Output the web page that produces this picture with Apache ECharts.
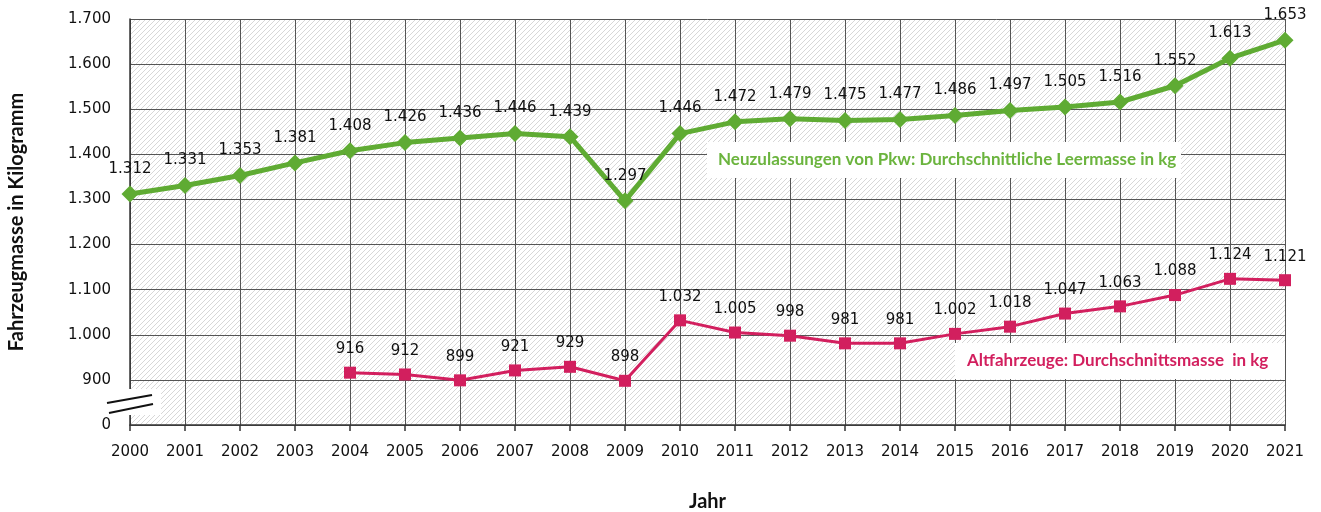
<!DOCTYPE html>
<html>
<head>
<meta charset="utf-8">
<script src="https://cdn.jsdelivr.net/npm/echarts@6/dist/echarts.min.js"></script>
<style>
html,body{margin:0;padding:0;background:#fff;}
#chart{width:1321px;height:512px;}
</style>
</head>
<body>
<div id="chart"></div>
<script>
const years = ['2000','2001','2002','2003','2004','2005','2006','2007','2008','2009','2010','2011','2012','2013','2014','2015','2016','2017','2018','2019','2020','2021'];
const neuzulassungen = [1312,1331,1353,1381,1408,1426,1436,1446,1439,1297,1446,1472,1479,1475,1477,1486,1497,1505,1516,1552,1613,1653];
const altfahrzeuge = [null,null,null,null,916,912,899,921,929,898,1032,1005,998,981,981,1002,1018,1047,1063,1088,1124,1121];
const yTicks = [800,900,1000,1100,1200,1300,1400,1500,1600,1700];
const nameNeu = 'Neuzulassungen von Pkw: Durchschnittliche Leermasse in kg';
const nameAlt = 'Altfahrzeuge: Durchschnittsmasse  in kg';

const GREEN = '#5FAB33';
const GREEN_TXT = '#6BB43E';
const PINK = '#D21F5E';

function de(v){ return String(v).replace(/\B(?=(\d{3})+(?!\d))/g, '.'); }

// hatch pattern
const pc = document.createElement('canvas');
pc.width = 5; pc.height = 5;
const ctx = pc.getContext('2d');
ctx.fillStyle = '#ffffff'; ctx.fillRect(0,0,5,5);
ctx.strokeStyle = '#d2d2d2'; ctx.lineWidth = 0.9;
ctx.beginPath();
ctx.moveTo(-1,6); ctx.lineTo(6,-1);
ctx.moveTo(-1,1); ctx.lineTo(1,-1);
ctx.moveTo(4,6); ctx.lineTo(6,4);
ctx.stroke();

const chart = echarts.init(document.getElementById('chart'), null, {renderer:'canvas'});
const labelFont = {fontFamily:'DejaVu Sans', fontSize:15, color:'#111'};
chart.setOption({
  animation:false,
  grid:{left:130,right:36,top:19,bottom:87,show:true,backgroundColor:{image:pc,repeat:'repeat'},borderWidth:0,
        outerBoundsMode:'none', containLabel:false},
  xAxis:{
    type:'category', data:years, boundaryGap:false,
    name:'Jahr', nameLocation:'middle', nameGap:67,
    nameTextStyle:{fontFamily:'Lato', fontWeight:'bold', fontSize:20, color:'#111'},
    axisLine:{lineStyle:{color:'#333',width:1.5}},
    axisTick:{show:true,length:6,lineStyle:{color:'#333',width:1.5}},
    axisLabel:{margin:20, fontFamily:'DejaVu Sans', fontSize:15, color:'#111'},
    splitLine:{show:true,lineStyle:{color:'#555',width:1}}
  },
  yAxis:{
    type:'value', min:800, max:1700, interval:100,
    name:'Fahrzeugmasse in Kilogramm', nameLocation:'middle', nameGap:103, nameRotate:90,
    nameTextStyle:{fontFamily:'Lato', fontWeight:'bold', fontSize:20, color:'#111'},
    axisLine:{show:true,lineStyle:{color:'#333',width:1.5}},
    axisTick:{show:false},
    axisLabel:{margin:19, fontFamily:'DejaVu Sans', fontSize:15, color:'#111',
      formatter:function(v){ return v===800 ? '0' : de(v); }},
    splitLine:{show:true,lineStyle:{color:'#555',width:1}}
  },
  series:[
    {type:'line', name:nameNeu, data:neuzulassungen, symbol:'diamond', symbolSize:17,
     lineStyle:{color:GREEN,width:5}, itemStyle:{color:GREEN}, z:3,
     label:{show:true, position:'top', distance:9, formatter:p=>de(p.value), ...labelFont}},
    {type:'line', name:nameAlt, data:altfahrzeuge, symbol:'rect', symbolSize:12,
     lineStyle:{color:PINK,width:3}, itemStyle:{color:PINK}, z:3,
     label:{show:true, position:'top', distance:10, formatter:p=>de(p.value), ...labelFont}}
  ],
  graphic:[
    {type:'rect', shape:{x:707,y:142,width:474,height:36}, style:{fill:'#fff'}, z:10},
    {type:'text', x:718, y:160, style:{text:nameNeu, fill:GREEN_TXT, font:'bold 17px Lato', textVerticalAlign:'middle'}, z:11},
    {type:'rect', shape:{x:955,y:343,width:330,height:36}, style:{fill:'#fff'}, z:10},
    {type:'text', x:967, y:361, style:{text:nameAlt, fill:PINK, font:'bold 17px Lato', textVerticalAlign:'middle'}, z:11},
    {type:'rect', shape:{x:129,y:389,width:32,height:26}, style:{fill:'#fff'}, z:10},
    {type:'line', shape:{x1:107,y1:403,x2:152,y2:395}, style:{stroke:'#111',lineWidth:2}, z:11},
    {type:'line', shape:{x1:109,y1:413,x2:153,y2:404}, style:{stroke:'#111',lineWidth:2}, z:11}
  ]
});
</script>
</body>
</html>
